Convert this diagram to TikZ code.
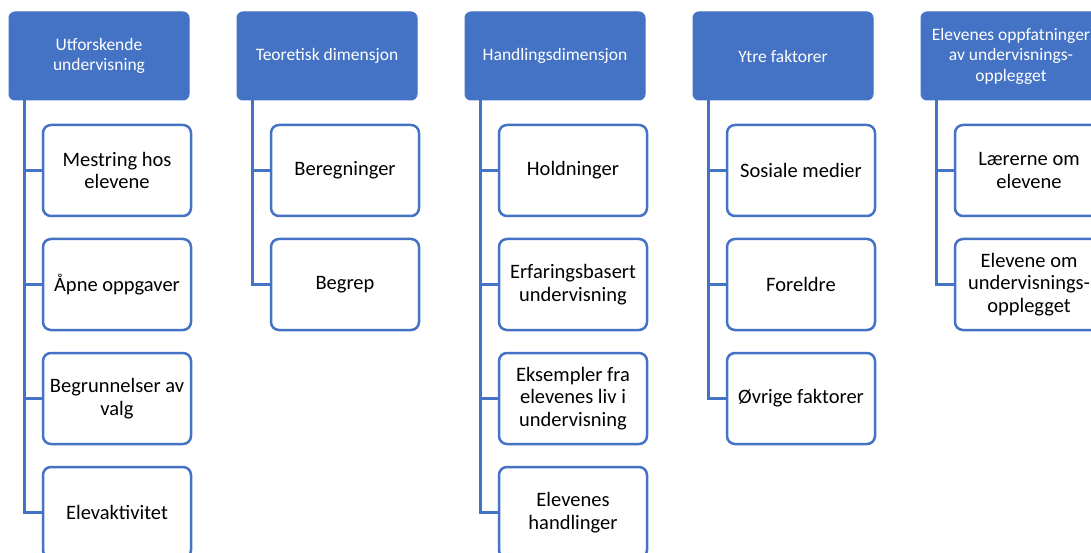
\documentclass[tikz,border=0pt]{standalone}
\usepackage{fontspec}
\setmainfont{Carlito}
\definecolor{hdrblue}{HTML}{4472C4}
\tikzset{
  hdr/.style={draw=hdrblue, fill=hdrblue, line width=1pt, rounded corners=6pt,
    minimum width=180pt, minimum height=88pt, align=center, text=white,
    font=\fontsize{17.5}{20.5}\selectfont, inner sep=2pt},
  child/.style={draw=hdrblue, fill=white, line width=2.5pt, rounded corners=8pt,
    minimum width=148pt, minimum height=91pt, align=center, text=black,
    font=\fontsize{20.5}{22.5}\selectfont, inner sep=2pt},
  conn/.style={draw=hdrblue, line width=2.5pt}
}
\begin{document}
\begin{tikzpicture}[x=1pt,y=-1pt]
\useasboundingbox (0,0) rectangle (1091,553);
\clip (0,0) rectangle (1091,553);
\fill[white] (0,0) rectangle (1091,553);
% headers
\node[hdr] (h1) at (99,56) {Utforskende\\undervisning};
\node[hdr] (h2) at (327,56) {Teoretisk dimensjon};
\node[hdr] (h3) at (555,56) {Handlingsdimensjon};
\node[hdr] (h4) at (783,56) {Ytre faktorer};
\node[hdr] (h5) at (1011,56) {Elevenes oppfatninger\\av undervisnings-\\opplegget};
% connector anchors
\foreach \i in {1,...,5} {\coordinate (t\i) at ([xshift=16pt]h\i.south west);}
% column 1
\node[child] (c11) at (117,170.5) {Mestring hos\\elevene};
\node[child] (c12) at (117,284.5) {Åpne oppgaver};
\node[child] (c13) at (117,398.5) {Begrunnelser av\\valg};
\node[child] (c14) at (117,512.5) {Elevaktivitet};
% column 2
\node[child] (c21) at (345,170.5) {Beregninger};
\node[child] (c22) at (345,284.5) {Begrep};
% column 3
\node[child] (c31) at (573,170.5) {Holdninger};
\node[child] (c32) at (573,284.5) {Erfaringsbasert\\undervisning};
\node[child] (c33) at (573,398.5) {Eksempler fra\\elevenes liv i\\undervisning};
\node[child] (c34) at (573,512.5) {Elevenes\\handlinger};
% column 4
\node[child] (c41) at (801,170.5) {Sosiale medier};
\node[child] (c42) at (801,284.5) {Foreldre};
\node[child] (c43) at (801,398.5) {Øvrige faktorer};
% column 5
\node[child] (c51) at (1029,170.5) {Lærerne om\\elevene};
\node[child] (c52) at (1029,284.5) {Elevene om\\undervisnings-\\opplegget};
% connectors
\draw[conn] (t1) |- (c11.west);
\draw[conn] (t1) |- (c12.west);
\draw[conn] (t1) |- (c13.west);
\draw[conn] (t1) |- (c14.west);
\draw[conn] (t2) |- (c21.west);
\draw[conn] (t2) |- (c22.west);
\draw[conn] (t3) |- (c31.west);
\draw[conn] (t3) |- (c32.west);
\draw[conn] (t3) |- (c33.west);
\draw[conn] (t3) |- (c34.west);
\draw[conn] (t4) |- (c41.west);
\draw[conn] (t4) |- (c42.west);
\draw[conn] (t4) |- (c43.west);
\draw[conn] (t5) |- (c51.west);
\draw[conn] (t5) |- (c52.west);
\end{tikzpicture}
\end{document}
